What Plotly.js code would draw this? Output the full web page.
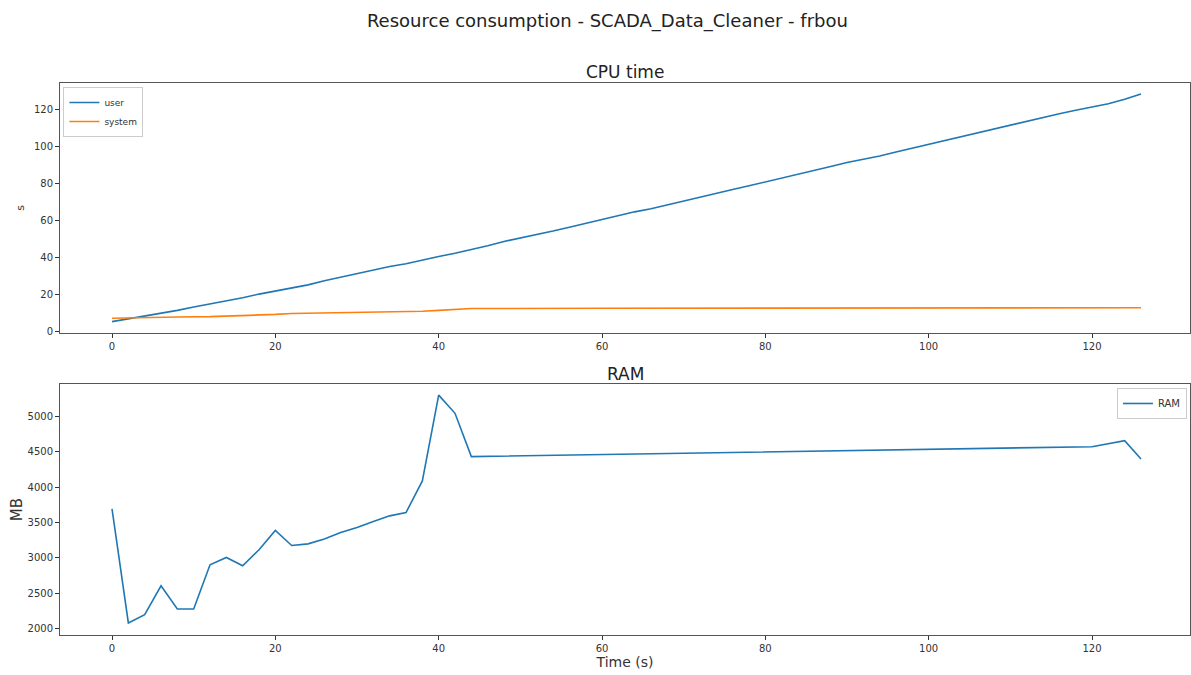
<!DOCTYPE html>
<html>
<head>
<meta charset="utf-8">
<script src="https://cdn.plot.ly/plotly-3.0.1.min.js"></script>
<style>
  html, body { margin: 0; padding: 0; background: #fff; }
  #chart { width: 1191px; height: 675px; }
</style>
</head>
<body>
<div id="chart"></div>
<script>
// CPU time samples (seconds since start)
const cpuTime = [0, 2, 4, 6, 8, 10, 12, 14, 16, 18, 20, 22, 24, 26, 28, 30, 32, 34, 36, 38, 40, 42, 44,
  46, 48, 50, 52, 54, 56, 58, 60, 62, 64, 66, 68, 70, 72, 74, 76, 78, 80, 82, 84, 86, 88, 90,
  92, 94, 96, 98, 100, 102, 104, 106, 108, 110, 112, 114, 116, 118, 120, 122, 124, 126];
const cpuUser = [5.5, 7.0, 8.3, 9.8, 11.6, 13.4, 15.0, 16.6, 18.4, 20.4, 22.0, 23.4, 25.4, 27.6, 29.6, 31.5,
  33.4, 35.3, 36.8, 38.9, 40.7, 42.5, 44.4, 46.6, 48.9, 50.7, 52.4, 54.5, 56.6, 58.7, 60.8, 62.9,
  64.9, 66.6, 68.6, 70.8, 72.9, 75.0, 77.0, 79.0, 81.0, 83.2, 85.3, 87.4, 89.4, 91.6, 93.2, 95.1,
  97.3, 99.4, 101.5, 103.6, 105.7, 107.6, 109.6, 111.8, 113.9, 116.0, 118.0, 119.9, 121.6, 123.4,
  125.8, 128.7];

const sysTime = [0, 4, 8, 12, 16, 20, 22, 26, 30, 34, 38, 40, 42, 44, 60, 80, 100, 120, 126];
const cpuSystem = [7.3, 7.8, 8.0, 8.2, 8.7, 9.4, 9.9, 10.1, 10.4, 10.8, 11.1, 11.6, 12.2, 12.6,
  12.7, 12.8, 12.8, 12.9, 13.0];

// Memory samples (MB)
const ramTime = [0, 2, 4, 6, 8, 10, 12, 14, 16, 18, 20, 22, 24, 26, 28, 30, 32, 34, 36, 38, 40, 42, 44,
  120, 124, 126];
const ramMB = [3695, 2080, 2198, 2607, 2278, 2278, 2904, 3007, 2890, 3116, 3389, 3177, 3200, 3267,
  3360, 3431, 3516, 3596, 3643, 4090, 5305, 5047, 4434, 4575, 4660, 4401];

const xTicks = [0, 20, 40, 60, 80, 100, 120];
const cpuTicks = [0, 20, 40, 60, 80, 100, 120];
const ramTicks = [2000, 2500, 3000, 3500, 4000, 4500, 5000];

const FONT = 'DejaVu Sans, sans-serif';
const BLUE = '#1f77b4';
const ORANGE = '#ff7f0e';

const traces = [
  { x: cpuTime, y: cpuUser, name: 'user', type: 'scatter', mode: 'lines',
    line: { color: BLUE, width: 1.6 }, xaxis: 'x', yaxis: 'y', legend: 'legend' },
  { x: sysTime, y: cpuSystem, name: 'system', type: 'scatter', mode: 'lines',
    line: { color: ORANGE, width: 1.6 }, xaxis: 'x', yaxis: 'y', legend: 'legend' },
  { x: ramTime, y: ramMB, name: 'RAM', type: 'scatter', mode: 'lines',
    line: { color: BLUE, width: 1.6 }, xaxis: 'x2', yaxis: 'y2', legend: 'legend2' }
];

const axisCommon = {
  showgrid: false, zeroline: false,
  showline: true, mirror: true, linecolor: '#555', linewidth: 1,
  ticks: 'outside', ticklen: 4, tickcolor: '#333', tickwidth: 1,
  tickfont: { family: FONT, size: 10, color: '#333' }
};

const layout = {
  width: 1191, height: 675,
  paper_bgcolor: '#fff', plot_bgcolor: '#fff',
  margin: { l: 60, r: 1, t: 83, b: 40 },
  showlegend: true,
  title: {
    text: 'Resource consumption - SCADA_Data_Cleaner - frbou',
    font: { family: FONT, size: 18, color: '#222' },
    x: 0.51, xanchor: 'center', y: 0.97, yanchor: 'middle'
  },
  xaxis: Object.assign({}, axisCommon, {
    domain: [0, 1], anchor: 'y', range: [-6.37, 132.0], tickvals: xTicks
  }),
  yaxis: Object.assign({}, axisCommon, {
    domain: [0.5471, 1], anchor: 'x', range: [-0.65, 134.6], tickvals: cpuTicks,
    title: { text: 's', font: { family: FONT, size: 11, color: '#333' }, standoff: 7 }
  }),
  xaxis2: Object.assign({}, axisCommon, {
    domain: [0, 1], anchor: 'y2', range: [-6.37, 132.0], tickvals: xTicks,
    title: { text: 'Time (s)', font: { family: FONT, size: 14, color: '#333' }, standoff: 4 }
  }),
  yaxis2: Object.assign({}, axisCommon, {
    domain: [0, 0.4547], anchor: 'x2', range: [1910, 5462], tickvals: ramTicks,
    title: { text: 'MB', font: { family: FONT, size: 15, color: '#333' }, standoff: 1 }
  }),
  legend: {
    x: 0.003, y: 0.9928, xanchor: 'left', yanchor: 'top',
    bgcolor: 'rgba(255,255,255,0.8)', bordercolor: '#ccc', borderwidth: 1,
    font: { family: FONT, size: 9, color: '#333' },
    itemwidth: 30, tracegroupgap: 0
  },
  legend2: {
    x: 0.9973, y: 0.4475, xanchor: 'right', yanchor: 'top',
    bgcolor: 'rgba(255,255,255,0.8)', bordercolor: '#ccc', borderwidth: 1,
    font: { family: FONT, size: 10, color: '#333' },
    itemwidth: 30
  },
  annotations: [
    { text: 'CPU time', xref: 'paper', yref: 'paper', x: 0.5, y: 1, yanchor: 'bottom',
      yshift: -1, showarrow: false, font: { family: FONT, size: 17, color: '#222' } },
    { text: 'RAM', xref: 'paper', yref: 'paper', x: 0.5, y: 0.4547, yanchor: 'bottom',
      yshift: -2, showarrow: false, font: { family: FONT, size: 17, color: '#222' } }
  ]
};

Plotly.newPlot('chart', traces, layout, { staticPlot: true, displayModeBar: false });
</script>
</body>
</html>
